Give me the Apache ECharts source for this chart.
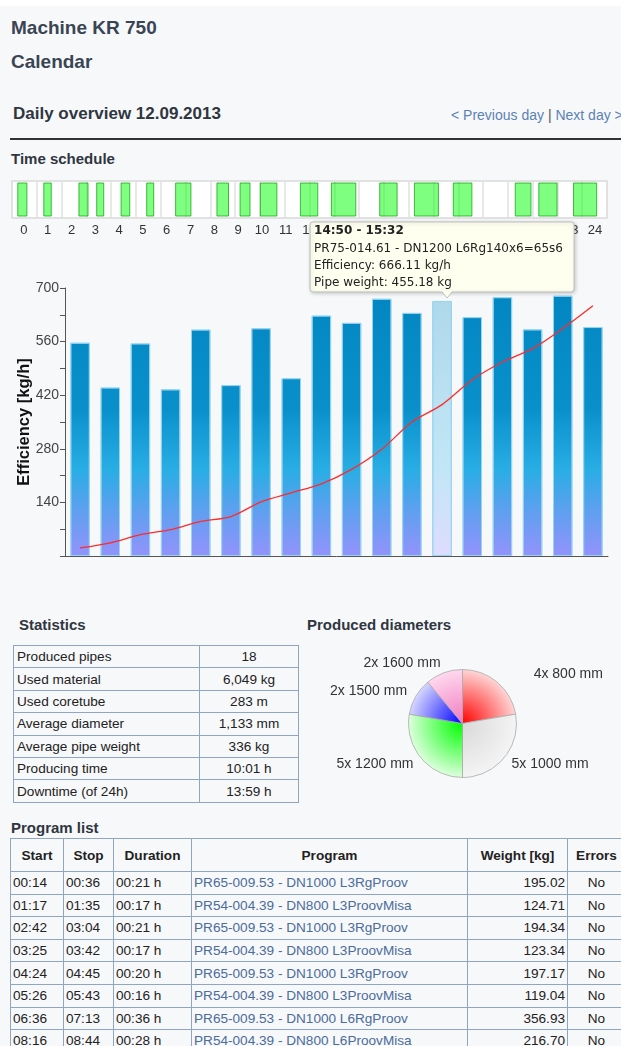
<!DOCTYPE html>
<html>
<head>
<meta charset="utf-8">
<title>Machine KR 750 - Daily overview</title>
<script src="https://cdn.jsdelivr.net/npm/echarts@6/dist/echarts.min.js"></script>
<style>
body{margin:0;width:621px;height:1046px;overflow:hidden;background:#f7f8fa;font-family:'Liberation Sans',Arial,sans-serif;color:#222;position:relative}
.abs{position:absolute;white-space:nowrap}
.h1{font-weight:bold;font-size:19px;line-height:20px;color:#3a4554}
.h2{font-weight:bold;font-size:17px;line-height:20px;color:#2f3640}
.h3{font-weight:bold;font-size:15px;line-height:18px;color:#2f3640}
#nav{left:451px;top:106px;font-size:14px;line-height:18px;color:#5b82b5}
#nav span{color:#555}
#hr{left:10px;top:138px;width:611px;height:1.5px;background:#333}
#main{position:absolute;left:0;top:170px;width:621px;height:410px}
#pie{position:absolute;left:300px;top:640px;width:321px;height:170px}
table{position:absolute;border-collapse:collapse;table-layout:fixed;font-size:13.6px}
td,th{border:1px solid #8fa5c4;padding:0 3px;overflow:hidden;white-space:nowrap}
#stats{left:13px;top:645px;width:285px}
#stats td{height:21.4px}
#stats td.v{text-align:center}
#prog{left:10px;top:838px;width:615px}
#prog th{height:32px;font-weight:bold;text-align:center}
#prog td{height:21.6px;padding:0 2px}
#prog td.p{color:#4b6c9c}
#prog td.w{text-align:right}
#prog td.e{text-align:center}
</style>
</head>
<body>
<div class="abs" style="left:0;top:0;width:621px;height:6px;background:#fff"></div>
<div class="abs h1" style="left:11px;top:18px">Machine KR 750</div>
<div class="abs h1" style="left:11px;top:52px">Calendar</div>
<div class="abs h2" style="left:13px;top:104px">Daily overview 12.09.2013</div>
<div class="abs" id="nav">&lt; Previous day <span>|</span> Next day &gt;</div>
<div class="abs" id="hr"></div>
<div class="abs h3" style="left:11px;top:150px">Time schedule</div>
<div id="main"></div>
<div class="abs h3" style="left:19px;top:616px">Statistics</div>
<div class="abs h3" style="left:307px;top:616px">Produced diameters</div>
<table id="stats"><colgroup><col style="width:186px"><col style="width:99px"></colgroup><tbody></tbody></table>
<div id="pie"></div>
<div class="abs h3" style="left:11px;top:819px">Program list</div>
<table id="prog">
<colgroup><col style="width:53px"><col style="width:50px"><col style="width:78px"><col style="width:276px"><col style="width:100px"><col style="width:58px"></colgroup>
<thead><tr><th>Start</th><th>Stop</th><th>Duration</th><th>Program</th><th>Weight [kg]</th><th>Errors</th></tr></thead>
<tbody></tbody>
</table>
<script>
// time schedule
var hourLabels = ['0','1','2','3','4','5','6','7','8','9','10','11','12','13','14','15','16','17','18','19','20','21','22','23','24'];
var startTimes = ['00:14','01:17','02:42','03:25','04:24','05:26','06:36','08:16','09:12','10:01','11:38','12:53','14:50','16:14','17:48','20:18','21:15','22:39'];
var stopTimes  = ['00:36','01:35','03:04','03:42','04:45','05:43','07:13','08:44','09:36','10:41','12:20','13:52','15:32','17:12','18:33','20:56','21:59','23:35'];

// efficiency per pipe (kg/h) and cumulative weight (kg)
var efficiency = [557.2, 440.2, 555.3, 435.3, 591.5, 446.4, 594.9, 464.4, 628, 609, 672, 635, 666.11, 624, 676, 592, 680, 598];
var cumWeight  = [195.02, 319.73, 514.07, 637.41, 834.58, 953.62, 1310.55, 1527.25, 1745, 2095, 2580, 3240, 3660, 4260, 4690, 5015, 5500, 6049];
var effTicks = [140, 280, 420, 560, 700];

// hovered pipe
var tipIndex = 12;
var tipProgram = 'PR75-014.61 - DN1200 L6Rg140x6=65s6';
var tipWeight = 455.18;

// statistics
var statLabels = ['Produced pipes','Used material','Used coretube','Average diameter','Average pipe weight','Producing time','Downtime (of 24h)'];
var statValues = ['18','6,049 kg','283 m','1,133 mm','336 kg','10:01 h','13:59 h'];

// produced diameters
var diameters = [800, 1000, 1200, 1500, 1600];
var pieCounts = [4, 5, 5, 2, 2];
var pieColors = ['#ff0000', '#d9d9d9', '#00ff00', '#0000ff', '#f07ac0'];
var pieLight  = ['#ffd6d6', '#f4f4f4', '#dcffdc', '#d6d6ff', '#ffd8ee'];

// program list (visible rows)
var progStart    = ['00:14','01:17','02:42','03:25','04:24','05:26','06:36','08:16'];
var progStop     = ['00:36','01:35','03:04','03:42','04:45','05:43','07:13','08:44'];
var progDuration = ['00:21 h','00:17 h','00:21 h','00:17 h','00:20 h','00:16 h','00:36 h','00:28 h'];
var progName     = ['PR65-009.53 - DN1000 L3RgProov','PR54-004.39 - DN800 L3ProovMisa','PR65-009.53 - DN1000 L3RgProov','PR54-004.39 - DN800 L3ProovMisa','PR65-009.53 - DN1000 L3RgProov','PR54-004.39 - DN800 L3ProovMisa','PR65-009.53 - DN1000 L6RgProov','PR54-004.39 - DN800 L6ProovMisa'];
var progWeight   = ['195.02','124.71','194.34','123.34','197.17','119.04','356.93','216.70'];
var progErrors   = ['No','No','No','No','No','No','No','No'];

// tables
var sb = document.querySelector('#stats tbody');
statLabels.forEach(function(l, i){
    var tr = document.createElement('tr');
    tr.innerHTML = '<td>' + l + '</td><td class="v">' + statValues[i] + '</td>';
    sb.appendChild(tr);
});
var pb = document.querySelector('#prog tbody');
progStart.forEach(function(s, i){
    var tr = document.createElement('tr');
    tr.innerHTML = '<td>' + s + '</td><td>' + progStop[i] + '</td><td>' + progDuration[i] + '</td>' +
        '<td class="p">' + progName[i] + '</td><td class="w">' + progWeight[i] + '</td><td class="e">' + progErrors[i] + '</td>';
    pb.appendChild(tr);
});

function toHours(t){
    var p = t.split(':');
    return +p[0] + p[1] / 60;
}

var font = "'Liberation Sans', Arial, sans-serif";
var plotTop = 118, plotHeight = 268;

var barGradient = new echarts.graphic.LinearGradient(0, plotTop, 0, plotTop + plotHeight, [
    {offset: 0, color: '#0286c2'},
    {offset: 0.45, color: '#0990cb'},
    {offset: 0.68, color: '#29ade5'},
    {offset: 0.83, color: '#5ea0ef'},
    {offset: 1, color: '#9492fc'}
], true);
var hiGradient = new echarts.graphic.LinearGradient(0, plotTop, 0, plotTop + plotHeight, [
    {offset: 0, color: '#aed7ea'},
    {offset: 0.68, color: '#c2e6f6'},
    {offset: 1, color: '#dedcfe'}
], true);

var barData = efficiency.map(function(v, i){
    return i === tipIndex ? {value: v, itemStyle: {color: hiGradient}} : v;
});
var blocks = startTimes.map(function(s, i){
    return [toHours(s), toHours(stopTimes[i])];
});

var myChart = echarts.init(document.getElementById('main'));
var option = {
    animation: false,
    grid: [
        {left: 12, top: 11, width: 595, height: 37, show: true, backgroundColor: '#fff', borderColor: '#d9d9d9', borderWidth: 1.5},
        {left: 65, top: plotTop, width: 543, height: plotHeight}
    ],
    xAxis: [
        {gridIndex: 0, type: 'value', min: 0, max: 24, interval: 1,
            axisLine: {show: false}, axisTick: {show: false}, axisLabel: {show: false},
            splitLine: {show: true, lineStyle: {color: '#e0e0e0', width: 1.5}}},
        {gridIndex: 0, type: 'category', data: hourLabels, position: 'bottom',
            axisLine: {show: false}, axisTick: {show: false},
            axisLabel: {interval: 0, margin: 6, fontSize: 13, color: '#333', fontFamily: font}},
        {gridIndex: 1, type: 'category', data: startTimes,
            axisLine: {lineStyle: {color: '#555'}},
            axisTick: {length: 5, lineStyle: {color: '#555'}},
            axisLabel: {show: false}}
    ],
    yAxis: [
        {gridIndex: 0, type: 'value', min: 0, max: 1, show: false},
        {gridIndex: 1, type: 'value', min: 0, max: 700, interval: 70,
            name: 'Efficiency [kg/h]', nameLocation: 'middle', nameGap: 32, nameMoveOverlap: false,
            nameTextStyle: {fontWeight: 'bold', fontSize: 16.5, color: '#111', fontFamily: font},
            axisLine: {show: true, lineStyle: {color: '#555'}},
            axisTick: {show: true, length: 5, lineStyle: {color: '#555'}},
            axisLabel: {margin: 6, fontSize: 14, color: '#444', fontFamily: font,
                formatter: function(v){ return effTicks.indexOf(v) >= 0 ? v : ''; }},
            splitLine: {show: false}},
        {gridIndex: 1, type: 'value', min: 0, max: 6480, show: false}
    ],
    series: [
        {
            type: 'custom', xAxisIndex: 0, yAxisIndex: 0, silent: true,
            encode: {x: [0, 1]},
            data: blocks,
            renderItem: function(params, api){
                var a = api.coord([api.value(0), 1]);
                var b = api.coord([api.value(1), 0]);
                return {
                    type: 'rect',
                    shape: {x: a[0], y: a[1] + 2, width: b[0] - a[0], height: b[1] - a[1] - 4},
                    style: {fill: 'rgba(0,255,0,0.5)', stroke: 'rgba(20,160,20,0.75)', lineWidth: 1}
                };
            }
        },
        {
            type: 'bar', xAxisIndex: 2, yAxisIndex: 1, silent: true,
            barWidth: 19.5,
            itemStyle: {color: barGradient, borderColor: 'rgba(150,212,240,0.9)', borderWidth: 1},
            data: barData
        },
        {
            type: 'line', xAxisIndex: 2, yAxisIndex: 2, silent: true,
            smooth: 0.3, showSymbol: false,
            lineStyle: {color: '#ff2b2b', width: 1.3},
            data: cumWeight
        }
    ]
};
myChart.setOption(option);

// tooltip of the hovered pipe, drawn on its own layer above the axis labels
var anc = myChart.convertToPixel({xAxisIndex: 2, yAxisIndex: 1}, [tipIndex, efficiency[tipIndex]]);
var bx = anc[0] - 132, bw = 264, bh = 70;
var bb = anc[1] - 9, by = bb - bh;
var tx = anc[0] + 5;
var tipFont = "'DejaVu Sans', Verdana, sans-serif";
var tipLines = [
    {t: startTimes[tipIndex] + ' - ' + stopTimes[tipIndex], bold: true},
    {t: tipProgram},
    {t: 'Efficiency: ' + efficiency[tipIndex].toFixed(2) + ' kg/h'},
    {t: 'Pipe weight: ' + tipWeight.toFixed(2) + ' kg'}
];
var tipChildren = [
    {type: 'rect', zlevel: 5, z: 100, shape: {x: bx, y: by, width: bw, height: bh, r: 3},
        style: {fill: '#fffff0', stroke: '#bdbdbd', lineWidth: 1, shadowBlur: 4, shadowColor: 'rgba(0,0,0,0.2)', shadowOffsetX: 1, shadowOffsetY: 1}},
    {type: 'polygon', zlevel: 5, z: 101, shape: {points: [[tx - 5, bb - 1], [tx + 5, bb - 1], [tx, bb + 6]]}, style: {fill: '#fffff0'}},
    {type: 'polyline', zlevel: 5, z: 101, shape: {points: [[tx - 5, bb], [tx, bb + 6], [tx + 5, bb]]}, style: {stroke: '#bdbdbd', lineWidth: 1, fill: null}}
];
tipLines.forEach(function(l, i){
    tipChildren.push({
        type: 'text', zlevel: 5, z: 102, x: bx + 4, y: by + 9 + i * 17.4,
        style: {text: l.t, fill: '#222', fontSize: 12, fontWeight: l.bold ? 'bold' : 'normal', fontFamily: tipFont, verticalAlign: 'middle'}
    });
});
myChart.setOption({graphic: tipChildren});

// produced diameters pie
var pieChart = echarts.init(document.getElementById('pie'));
var pc = [162.5, 83.5], pr = 54;
var pieData = pieCounts.map(function(c, i){
    var item = {
        value: c,
        name: c + 'x ' + diameters[i] + ' mm',
        itemStyle: {color: new echarts.graphic.RadialGradient(pc[0], pc[1], pr, [
            {offset: 0, color: pieColors[i]}, {offset: 1, color: pieLight[i]}], true)}
    };
    if (i === 0) item.labelLine = {length2: 30};
    return item;
});
pieChart.setOption({
    animation: false,
    series: [{
        type: 'pie', center: pc, radius: pr, startAngle: 90, clockwise: true,
        avoidLabelOverlap: false, silent: true,
        itemStyle: {borderColor: '#aaa', borderWidth: 0.8},
        label: {show: true, position: 'outside', fontSize: 14, color: '#333', fontFamily: font, distanceToLabelLine: 0},
        labelLine: {show: false, length: 10, length2: 0},
        data: pieData
    }]
});
</script>
</body>
</html>
